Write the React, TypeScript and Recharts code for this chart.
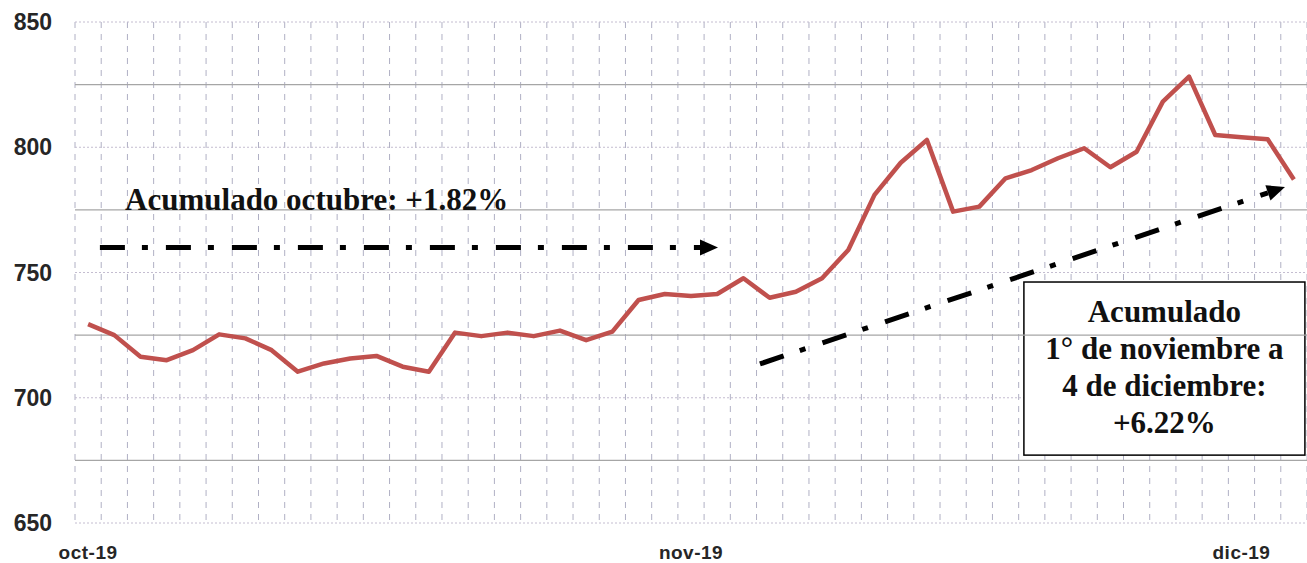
import React from 'react';
import {
  LineChart,
  Line,
  XAxis,
  YAxis,
  CartesianGrid,
  ReferenceLine,
  ReferenceDot,
  ReferenceArea
} from 'recharts';

// business days, oct-2019 to 4-dec-2019
const days = [
  '01-10', '02-10', '03-10', '04-10', '07-10', '08-10', '09-10', '10-10', '11-10', '14-10', '15-10', '16-10',
  '17-10', '18-10', '21-10', '22-10', '23-10', '24-10', '25-10', '28-10', '29-10', '30-10', '31-10',
  '01-11', '04-11', '05-11', '06-11', '07-11', '08-11', '11-11', '12-11', '13-11', '14-11', '15-11', '18-11',
  '19-11', '20-11', '21-11', '22-11', '25-11', '26-11', '27-11', '28-11', '29-11',
  '02-12', '03-12', '04-12'
];

const prices = [
  729.4, 725, 716.4, 715, 719, 725.3, 723.7, 719, 710.4, 713.7, 715.7, 716.7,
  712.4, 710.4, 726, 724.6, 726, 724.6, 726.8, 723, 726.4, 739, 741.4,
  740.6, 741.4, 747.7, 739.9, 742.3, 747.7, 759, 781, 793.8, 802.9, 774.3, 776.3,
  787.6, 790.9, 795.6, 799.6, 792, 798.2, 818.2, 828.2, 804.9,
  804, 803.2, 787.1
];

const monthTicks = ['01-10', '01-11', '02-12'];
const monthLabels = ['oct-19', 'nov-19', 'dic-19'];
const majorTicks = [650, 700, 750, 800, 850];
const minorLines = [675, 725, 775, 825];

const octText = 'Acumulado octubre: +1.82%';
const boxLines = ['Acumulado', '1° de noviembre a', '4 de diciembre:', '+6.22%'];

const data = days.map((d, i) => ({ i, day: d, value: prices[i] }));
const tickIdx = monthTicks.map((d) => days.indexOf(d));
const gridTicks = Array.from({ length: days.length + 1 }, (_, k) => k - 0.5);
const xDomain: [number, number] = [-0.5, days.length - 0.5];

const serif = '"Liberation Serif", "Times New Roman", serif';
const sans = '"Liberation Sans", Arial, sans-serif';

const arrowHead = (angle: number) => (props: any) => {
  const { cx, cy } = props;
  return (
    <polygon
      points="0,0 -18,-8 -18,8"
      transform={`translate(${cx},${cy}) rotate(${angle})`}
      fill="#000"
    />
  );
};

const OctLabel = (props: any) => {
  const { cx, cy } = props;
  return (
    <text x={cx} y={cy} fontFamily={serif} fontSize={31} fontWeight="bold" fill="#111">
      {octText}
    </text>
  );
};

const BoxShape = (props: any) => {
  const { x, y, width, height } = props;
  const lh = 37;
  const top = y + height / 2 - (lh * (boxLines.length - 1)) / 2 - 2;
  return (
    <g>
      <rect x={x} y={y} width={width} height={height} fill="#fff" stroke="#000" strokeWidth={1.5} />
      {boxLines.map((t, k) => (
        <text
          key={k}
          x={x + width / 2}
          y={top + k * lh}
          textAnchor="middle"
          dominantBaseline="central"
          fontFamily={serif}
          fontSize={31}
          fontWeight="bold"
          fill="#111"
        >
          {t}
        </text>
      ))}
    </g>
  );
};

export default function App() {
  return (
    <div style={{ position: 'absolute', left: 0, top: 0, background: '#fff' }}>
      <LineChart width={1307} height={563} data={data} margin={{ top: 22, right: 0, bottom: 0, left: 0 }}>
        <XAxis
          type="number"
          dataKey="i"
          domain={xDomain}
          ticks={tickIdx}
          interval={0}
          tickFormatter={(v) => monthLabels[tickIdx.indexOf(v)]}
          height={40}
          tickSize={0}
          tickMargin={23}
          axisLine={false}
          tickLine={false}
          tick={{ fill: '#262626', fontSize: 19, fontWeight: 'bold', fontFamily: sans, letterSpacing: 0.5 }}
        />
        <XAxis xAxisId="grid" type="number" dataKey="i" domain={xDomain} ticks={gridTicks} interval={0} hide />
        <YAxis
          domain={[650, 850]}
          ticks={majorTicks}
          interval={0}
          width={75}
          tickSize={0}
          tickMargin={23}
          axisLine={false}
          tickLine={false}
          tick={{ fill: '#262626', fontSize: 23, fontWeight: 'bold', fontFamily: sans }}
        />
        <CartesianGrid xAxisId="grid" horizontal={false} stroke="#b0b0c4" strokeDasharray="6 6" />
        <CartesianGrid vertical={false} stroke="#c4bdd0" strokeDasharray="2 2" />
        {minorLines.map((v) => (
          <ReferenceLine key={v} y={v} stroke="#a6a6a6" strokeWidth={1.2} />
        ))}
        <Line
          type="linear"
          dataKey="value"
          stroke="#c0504d"
          strokeWidth={4.5}
          strokeLinejoin="round"
          dot={false}
          isAnimationActive={false}
        />
        <ReferenceDot xAxisId="grid" x={1.41} y={775} r={1} shape={OctLabel} />
        <ReferenceLine
          xAxisId="grid"
          segment={[{ x: 0.45, y: 760 }, { x: 23.35, y: 760 }]}
          stroke="#000"
          strokeWidth={5}
          strokeDasharray="25 17 6 18"
        />
        <ReferenceDot xAxisId="grid" x={24.03} y={760} r={1} shape={arrowHead(0)} />
        <ReferenceLine
          xAxisId="grid"
          segment={[{ x: 25.63, y: 713.5 }, { x: 45.01, y: 781.8 }]}
          stroke="#000"
          strokeWidth={5}
          strokeDasharray="25 17 6 18"
        />
        <ReferenceDot xAxisId="grid" x={45.66} y={784.1} r={1} shape={arrowHead(-18.6)} />
        <ReferenceArea xAxisId="grid" x1={35.7} x2={46.42} y1={677.1} y2={746.2} shape={BoxShape} />
      </LineChart>
    </div>
  );
}
